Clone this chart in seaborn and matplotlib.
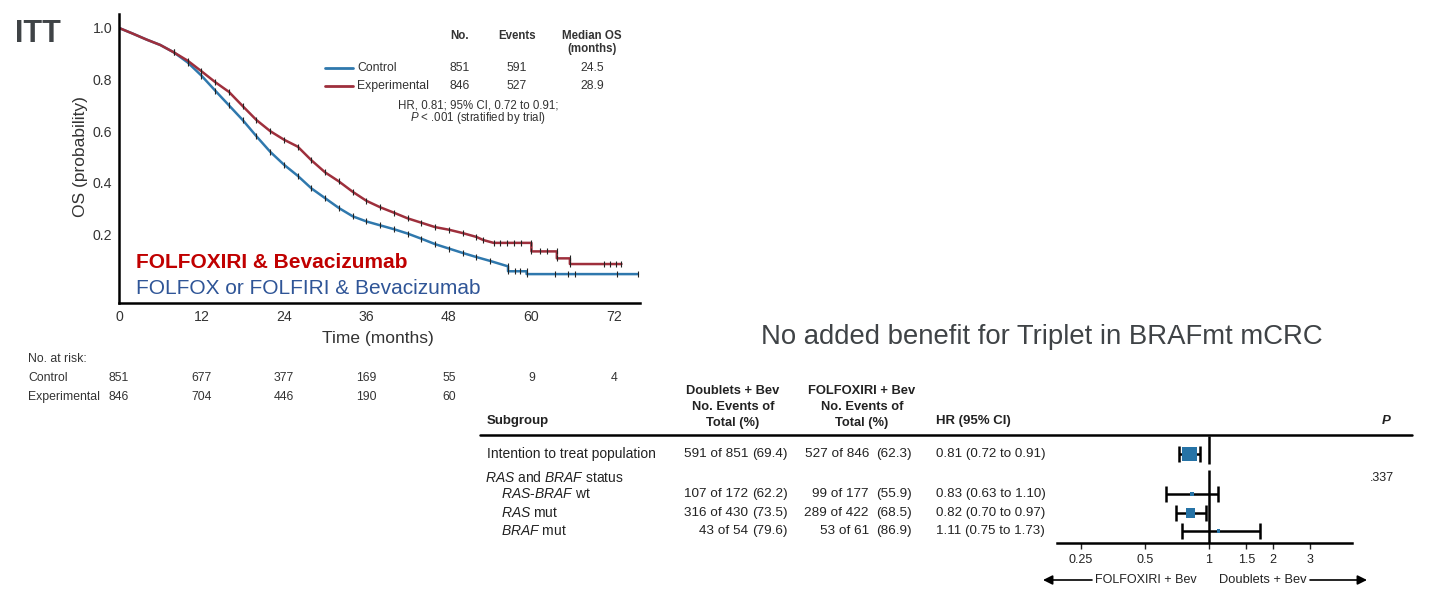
import matplotlib
matplotlib.use('Agg')
import matplotlib.pyplot as plt
import matplotlib.transforms as mtransforms
from matplotlib.ticker import NullLocator
import pandas as pd
import seaborn as sns

# Kaplan-Meier curves (months, OS probability)
months_ctrl = [0, 2, 4, 6, 8, 10, 12, 14, 16, 18, 20, 22, 24, 26, 28, 30, 32, 34, 36, 38,
               40, 42, 44, 46, 48, 50, 52, 54, 56.6, 56.6, 57.6, 58.4, 59.3, 59.3, 63.5,
               65.3, 66.3, 72.5, 75.5]
surv_ctrl = [1.0, .978, .955, .934, .905, .866, .815, .757, .70, .643, .58, .52, .47, .427,
             .378, .34, .302, .27, .25, .235, .22, .203, .183, .162, .145, .128, .112, .097,
             .076, .057, .057, .057, .057, .046, .046, .046, .046, .046, .046]
months_exp = [0, 2, 4, 6, 8, 10, 12, 14, 16, 18, 20, 22, 24, 26, 28, 30, 32, 34, 36, 38,
              40, 42, 44, 46, 48, 50, 52, 53, 54.5, 55.5, 56.5, 57.5, 58.5, 60, 60, 61.2,
              62.2, 63.7, 63.7, 65.6, 65.6, 70.5, 71.5, 72.3, 73.1]
surv_exp = [1.0, .978, .955, .934, .905, .873, .832, .79, .752, .697, .643, .60, .567, .54,
            .487, .44, .405, .365, .33, .305, .284, .262, .245, .228, .218, .205, .19, .178,
            .167, .167, .167, .167, .167, .167, .134, .134, .134, .134, .107, .107, .085,
            .085, .085, .085, .085]

arms = ['Control', 'Experimental']
arm_no = ['851', '846']
arm_events = ['591', '527']
arm_median = ['24.5', '28.9']

risk_months = [0, 12, 24, 36, 48, 60, 72]
risk_ctrl = [851, 677, 377, 169, 55, 9, 4]
risk_exp = [846, 704, 446, 190, 60]

# forest plot
subgroups = ['Intention to treat population', '$RAS$-$BRAF$ wt', '$RAS$ mut', '$BRAF$ mut']
doub_n = ['591 of 851', '107 of 172', '316 of 430', '43 of 54']
doub_pct = ['(69.4)', '(62.2)', '(73.5)', '(79.6)']
trip_n = ['527 of 846', '99 of 177', '289 of 422', '53 of 61']
trip_pct = ['(62.3)', '(55.9)', '(68.5)', '(86.9)']
hr = [0.81, 0.83, 0.82, 1.11]
hr_lo = [0.72, 0.63, 0.70, 0.75]
hr_hi = [0.91, 1.10, 0.97, 1.73]
p_het = '.337'
forest_ticks = [0.25, 0.5, 1, 1.5, 2, 3]
forest_ticklabels = ['0.25', '0.5', '1', '1.5', '2', '3']

BLUE = '#2f78ad'
RED = '#9e2f3c'
BOX = '#2673a6'
GREY = '#3f4346'
INK = '#222222'

sns.set_theme(style='white')
plt.rcParams['font.family'] = ['Liberation Sans', 'DejaVu Sans']
plt.rcParams['mathtext.fontset'] = 'custom'
plt.rcParams['mathtext.rm'] = 'Liberation Sans'
plt.rcParams['mathtext.it'] = 'Liberation Sans:italic'
plt.rcParams['mathtext.bf'] = 'Liberation Sans:bold'

W, H = 1430, 594
fig = plt.figure(figsize=(W / 100, H / 100), dpi=100)


def box(x0, y0, x1, y1):
    return [x0 / W, 1 - y1 / H, (x1 - x0) / W, (y1 - y0) / H]


# overlay in pixel coords for the free text
ov = fig.add_axes([0, 0, 1, 1], zorder=5)
ov.set_xlim(0, W)
ov.set_ylim(H, 0)
ov.axis('off')
ov.patch.set_alpha(0)

# ---- KM plot ----
km = fig.add_axes(box(119, 14, 640, 303))
df = pd.concat([
    pd.DataFrame({'month': months_ctrl, 'surv': surv_ctrl, 'arm': 'Control'}),
    pd.DataFrame({'month': months_exp, 'surv': surv_exp, 'arm': 'Experimental'}),
])
sns.lineplot(data=df, x='month', y='surv', hue='arm', palette={'Control': BLUE, 'Experimental': RED},
             estimator=None, sort=False, lw=1.8, legend=False, ax=km)
for a in arms:
    sub = df[(df.arm == a) & (df.month >= 8)]
    km.plot(sub.month, sub.surv, ls='none', marker='|', ms=4, mew=0.8, color=INK)

km.set_xlim(0, 75.8)
km.set_ylim(-0.066, 1.054)
km.set_xticks(risk_months)
km.set_yticks([0.2, 0.4, 0.6, 0.8, 1.0])
km.set_yticklabels(['0.2', '0.4', '0.6', '0.8', '1.0'])
km.tick_params(length=0, labelsize=10.2, pad=5, colors='#333333')
km.set_xlabel('')
km.set_ylabel('')
for s in ['top', 'right']:
    km.spines[s].set_visible(False)
for s in ['left', 'bottom']:
    km.spines[s].set_linewidth(1.8)
    km.spines[s].set_color('black')

ov.text(80, 157, 'OS (probability)', rotation=90, ha='center', va='center', fontsize=12.5, color='#333333')
ov.text(378, 338, 'Time (months)', ha='center', va='center', fontsize=12.5, color='#333333')

# legend table
col_x = [460, 517, 592]
for x, t in zip(col_x, ['No.', 'Events', 'Median OS']):
    ov.text(x, 36, t, ha='center', va='center', fontsize=8.3, weight='bold', color='#333333')
ov.text(592, 49, '(months)', ha='center', va='center', fontsize=8.3, weight='bold', color='#333333')
for i, (a, c) in enumerate(zip(arms, [BLUE, RED])):
    y = 68 + 18 * i
    ov.plot([325, 353], [y, y], color=c, lw=2)
    ov.text(357, y, a, va='center', fontsize=8.8, color='#333333')
    for x, t in zip(col_x, [arm_no[i], arm_events[i], arm_median[i]]):
        ov.text(x, y, t, ha='center', va='center', fontsize=8.8, color='#333333')
ov.text(478, 105, 'HR, 0.81; 95% CI, 0.72 to 0.91;', ha='center', va='center', fontsize=8.3, color='#333333')
ov.text(478, 118, r'$P$ < .001 (stratified by trial)', ha='center', va='center', fontsize=8.3, color='#333333')

# arm labels
ov.text(136, 262, 'FOLFOXIRI & Bevacizumab', va='center', fontsize=15, weight='bold', color='#c00000')
ov.text(136, 289, 'FOLFOX or FOLFIRI & Bevacizumab', va='center', fontsize=15, color='#2f5597')
ov.text(15, 34, 'ITT', va='center', fontsize=22, weight='bold', color=GREY)

# number at risk
tr = mtransforms.blended_transform_factory(km.transData, ov.transData)
ov.text(28, 359, 'No. at risk:', va='center', fontsize=8.8, color='#333333')
ov.text(28, 378, 'Control', va='center', fontsize=8.8, color='#333333')
ov.text(28, 397, 'Experimental', va='center', fontsize=8.8, color='#333333')
for m, n in zip(risk_months, risk_ctrl):
    km.text(m, 378, str(n), transform=tr, ha='center', va='center', fontsize=8.8, color='#333333')
for m, n in zip(risk_months, risk_exp):
    km.text(m, 397, str(n), transform=tr, ha='center', va='center', fontsize=8.8, color='#333333')

ov.text(1042, 337, 'No added benefit for Triplet in BRAFmt mCRC', ha='center', va='center',
        fontsize=19.8, color=GREY)

# ---- forest plot ----
row_y = [454, 494, 513, 531]
fst = fig.add_axes(box(1057, 436, 1352, 543))
fst.set_xscale('log')
fst.errorbar(hr, row_y, xerr=[[h - l for h, l in zip(hr, hr_lo)], [u - h for h, u in zip(hr, hr_hi)]],
             fmt='none', ecolor='black', elinewidth=1.8, capsize=6, capthick=1.8)
sns.scatterplot(x=hr, y=row_y, s=[110, 10, 45, 6], marker='s', color=BOX, linewidth=0,
                legend=False, zorder=3, ax=fst)
fst.vlines(1, 436, 464, color='black', lw=1.8)
fst.vlines(1, 470, 543, color='black', lw=1.8)
fst.set_xlim(0.193, 4.71)
fst.set_ylim(543, 436)
fst.set_xticks(forest_ticks)
fst.set_xticklabels(forest_ticklabels)
fst.xaxis.set_minor_locator(NullLocator())
fst.set_yticks([])
fst.tick_params(axis='x', length=4, width=1, pad=4, labelsize=9, colors=INK, bottom=True)
for s in ['top', 'right', 'left']:
    fst.spines[s].set_visible(False)
fst.spines['bottom'].set_linewidth(1.8)
fst.spines['bottom'].set_color('black')
fst.patch.set_alpha(0)

ov.plot([480, 1412], [435, 435], color='black', lw=1.8)
ov.text(487, 421, 'Subgroup', va='center', fontsize=9.5, weight='bold', color=INK)
for cx, head in [(733, 'Doublets + Bev'), (862, 'FOLFOXIRI + Bev')]:
    for y, t in zip([391, 407, 423], [head, 'No. Events of', 'Total (%)']):
        ov.text(cx, y, t, ha='center', va='center', fontsize=9.3, weight='bold', color=INK)
ov.text(936, 421, 'HR (95% CI)', va='center', fontsize=9.5, weight='bold', color=INK)
ov.text(1382, 421, 'P', va='center', fontsize=9.5, weight='bold', style='italic', color=INK)

ov.text(485, 478, '$RAS$ and $BRAF$ status', va='center', fontsize=10, color=INK)
ov.text(1370, 478, p_het, va='center', fontsize=9, color=INK)
for i, y in enumerate(row_y):
    ov.text(487 if i == 0 else 501, y, subgroups[i], va='center', fontsize=10, color=INK)
    ov.text(748, y, doub_n[i], ha='right', va='center', fontsize=9.7, color=INK)
    ov.text(788, y, doub_pct[i], ha='right', va='center', fontsize=9.7, color=INK)
    ov.text(869, y, trip_n[i], ha='right', va='center', fontsize=9.7, color=INK)
    ov.text(912, y, trip_pct[i], ha='right', va='center', fontsize=9.7, color=INK)
    ov.text(936, y, f'{hr[i]:.2f} ({hr_lo[i]:.2f} to {hr_hi[i]:.2f})', va='center', fontsize=9.6, color=INK)

ov.annotate('', xy=(1043, 580), xytext=(1092, 580),
            arrowprops=dict(arrowstyle='-|>', color='black', lw=1.2, mutation_scale=14, shrinkA=0, shrinkB=0))
ov.annotate('', xy=(1367, 580), xytext=(1310, 580),
            arrowprops=dict(arrowstyle='-|>', color='black', lw=1.2, mutation_scale=14, shrinkA=0, shrinkB=0))
ov.text(1197, 580, 'FOLFOXIRI + Bev', ha='right', va='center', fontsize=9, color=INK)
ov.text(1219, 580, 'Doublets + Bev', ha='left', va='center', fontsize=9.3, color=INK)

fig.savefig('out.png', dpi=100)
